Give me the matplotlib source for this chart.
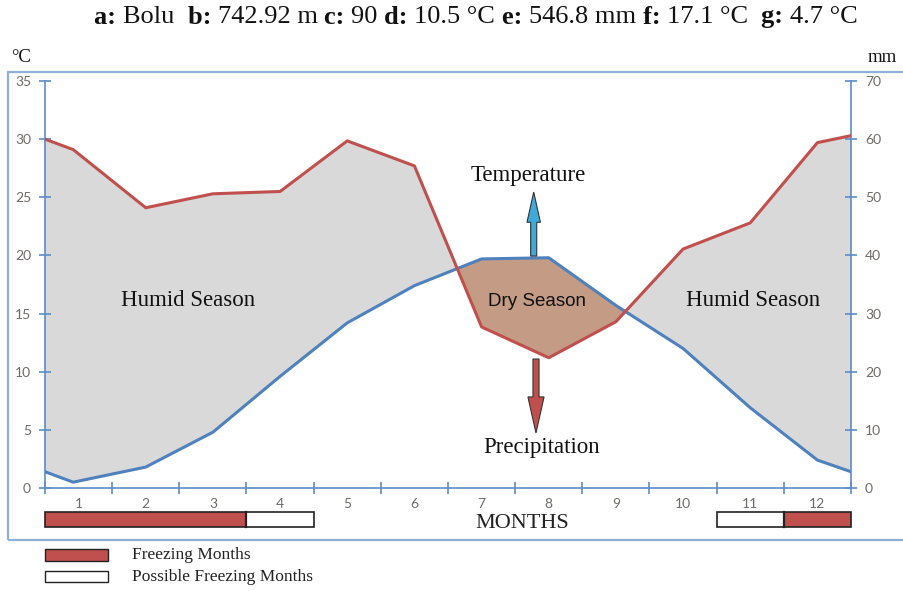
import matplotlib
matplotlib.use("Agg")
import matplotlib.pyplot as plt
from matplotlib.patches import Rectangle, FancyArrow
import numpy as np

# ---- data ----
months = ["1", "2", "3", "4", "5", "6", "7", "8", "9", "10", "11", "12"]
x_pos = [0, 0.42, 1.5, 2.5, 3.5, 4.5, 5.5, 6.5, 7.5, 8.5, 9.5, 10.5, 11.5, 12]
temperature = [1.4, 0.5, 1.8, 4.8, 9.6, 14.2, 17.4, 19.7, 19.8, 15.7, 12.0, 6.9, 2.4, 1.4]
precipitation = [60.0, 58.2, 48.2, 50.6, 51.0, 59.7, 55.4, 27.7, 22.4, 28.6, 41.1, 45.6, 59.4, 60.6]
freezing_months = [1, 2, 3, 12]
possible_freezing_months = [4, 11]
title_parts = [("a:", "Bolu "), ("b:", "742.92 m"), ("c:", "90"), ("d:", "10.5 °C"),
               ("e:", "546.8 mm"), ("f:", "17.1 °C "), ("g:", "4.7 °C")]

W, H = 904, 591
SERIF = ["Liberation Serif", "DejaVu Serif"]
SANS = ["Lato", "DejaVu Sans"]
BLUE = "#4f81bd"
RED = "#c0504d"
AXC = "#5b8bc9"
TICKC = "#6e6a66"

def fx(px):
    return px / W

def fy(py):
    return 1 - py / H

fig = plt.figure(figsize=(W / 100, H / 100), dpi=100)
fig.patch.set_facecolor("white")

# outer frame
fig.patches.append(Rectangle((fx(8), fy(540)), 1.2, (540 - 72) / H, transform=fig.transFigure,
                             fill=False, edgecolor="#8fb0d8", lw=1.6, zorder=0))

ax = fig.add_axes([fx(45), fy(488), (851 - 45) / W, (488 - 81) / H])
ax2 = ax.twinx()
ax.set_xlim(0, 12)
ax.set_ylim(0, 35)
ax2.set_ylim(0, 70)
ax.patch.set_alpha(0)
ax2.patch.set_alpha(0)

t = np.array(temperature)
p = np.array(precipitation)
ratio = 35 / 70
ps = p * ratio
ax.fill_between(x_pos, t, ps, where=ps >= t, interpolate=True, color="#d9d9d9", lw=0, zorder=1)
ax.fill_between(x_pos, t, ps, where=ps < t, interpolate=True, color="#c49c85", lw=0, zorder=1)
ax.plot(x_pos, t, color=BLUE, lw=2.2, zorder=3, solid_joinstyle="round")
ax2.plot(x_pos, p, color=RED, lw=2.2, zorder=3, solid_joinstyle="round")

for a in (ax, ax2):
    a.spines["top"].set_visible(False)
    for s in ("left", "right", "bottom"):
        a.spines[s].set_color(AXC)
        a.spines[s].set_linewidth(1.2)
ax.spines["right"].set_visible(False)
ax2.spines["left"].set_visible(False)
ax2.spines["bottom"].set_visible(False)

ax.set_yticks(np.arange(0, 36, 5))
ax2.set_yticks(np.arange(0, 71, 10))
ax.set_xticks(np.arange(0, 13, 1))
ax.set_xticklabels([])
ax.set_xticks(np.arange(0.5, 12, 1), minor=True)
ax.set_xticklabels(months, minor=True)
ax.tick_params(axis="x", which="major", direction="inout", length=8, color=AXC, width=1.2)
ax.tick_params(axis="x", which="minor", length=0, pad=7.5, labelsize=10, labelcolor=TICKC)
ax.tick_params(axis="y", direction="inout", length=8, color=AXC, width=1.2, labelsize=10,
               labelcolor=TICKC, pad=6)
ax2.tick_params(axis="y", direction="inout", length=8, color=AXC, width=1.2, labelsize=10,
                labelcolor=TICKC, pad=6)
for lab in ax.get_xticklabels(minor=True) + ax.get_yticklabels() + ax2.get_yticklabels():
    lab.set_family(SANS)

# freezing bars below axis
bar_y0 = -3.35
bar_h = 1.29
for m in freezing_months:
    ax.add_patch(Rectangle((m - 1, bar_y0), 1, bar_h, facecolor=RED, edgecolor="none",
                           clip_on=False, zorder=4))
for m in possible_freezing_months:
    ax.add_patch(Rectangle((m - 1, bar_y0), 1, bar_h, facecolor="white", edgecolor="none",
                           clip_on=False, zorder=4))
for grp in ([1, 2, 3, 4], [11, 12]):
    ax.add_patch(Rectangle((min(grp) - 1, bar_y0), len(grp), bar_h, fill=False,
                           edgecolor="#222222", lw=1.2, clip_on=False, zorder=5))
ax.plot([3, 3], [bar_y0, bar_y0 + bar_h], color="#222222", lw=1.6, clip_on=False, zorder=5)
ax.plot([11, 11], [bar_y0, bar_y0 + bar_h], color="#222222", lw=1.6, clip_on=False, zorder=5)

# arrows
ax.add_patch(FancyArrow(7.276, 19.95, 0, 25.45 - 19.95, width=0.09, head_width=0.2,
                        head_length=2.6, length_includes_head=True, facecolor="#3fa9d8",
                        edgecolor="#333333", lw=0.8, zorder=6))
ax.add_patch(FancyArrow(7.31, 11.09, 0, 4.73 - 11.09, width=0.09, head_width=0.24,
                        head_length=3.1, length_includes_head=True, facecolor=RED,
                        edgecolor="#333333", lw=0.8, zorder=6))

# texts
ann = dict(family=SERIF, fontsize=16.5, ha="center", va="center", color="#111111")
fig.text(fx(528), fy(175), "Temperature", **ann)
fig.text(fx(542), fy(448), "Precipitation", **ann)
fig.text(fx(188), fy(301), "Humid Season", **ann)
fig.text(fx(753), fy(300), "Humid Season", **ann)
fig.text(fx(537), fy(302), "Dry Season", family=["Liberation Sans", "DejaVu Sans"], fontsize=13.5,
         ha="center", va="center", color="#111111")
fig.text(fx(522), fy(523), "MONTHS", family=SERIF, fontsize=16, ha="center", va="center", color="#222222")
fig.text(fx(11), fy(57), "°C", family=SERIF, fontsize=13.5, ha="left", va="center", color="#111111")
fig.text(fx(897), fy(57), "mm", family=SERIF, fontsize=13.5, ha="right", va="center", color="#111111")

# legend
fig.patches.append(Rectangle((fx(45), fy(561)), 63 / W, 12 / H, transform=fig.transFigure,
                             facecolor=RED, edgecolor="#222222", lw=1.0))
fig.patches.append(Rectangle((fx(45), fy(582)), 63 / W, 11 / H, transform=fig.transFigure,
                             facecolor="white", edgecolor="#222222", lw=1.0))
fig.text(fx(132), fy(555), "Freezing Months", family=SERIF, fontsize=12.5, ha="left", va="center",
         color="#222222")
fig.text(fx(132), fy(577), "Possible Freezing Months", family=SERIF, fontsize=12.5, ha="left", va="center",
         color="#222222")

# title with bold labels, laid out piece by piece
fig.canvas.draw()
renderer = fig.canvas.get_renderer()
pieces = []
for i, (lab, val) in enumerate(title_parts):
    pieces.append((lab + " ", "bold"))
    pieces.append((val + (" " if i < len(title_parts) - 1 else ""), "normal"))
objs = []
for s, w in pieces:
    tt = fig.text(0, fy(17), s, family=SERIF, fontsize=19, fontweight=w, ha="left", va="center",
                  color="#111111")
    objs.append(tt)
widths = [o.get_window_extent(renderer).width for o in objs]
total = sum(widths)
x0 = 476 - total / 2
for o, wd in zip(objs, widths):
    o.set_x(fx(x0))
    x0 += wd

fig.savefig("out.png", dpi=100, facecolor="white")
